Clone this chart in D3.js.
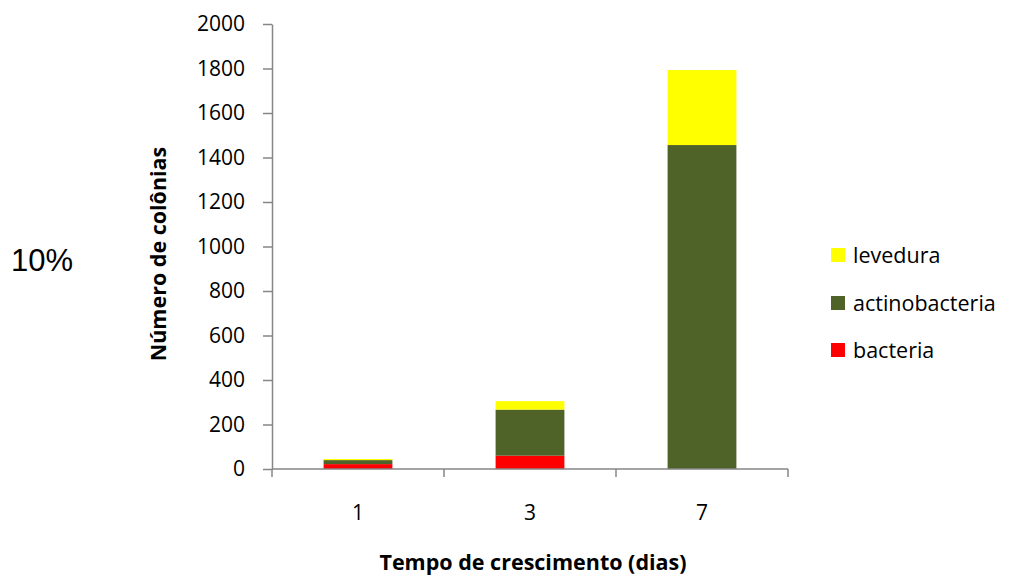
<!DOCTYPE html>
<html>
<head>
<meta charset="utf-8">
<script src="https://cdn.jsdelivr.net/npm/d3@7"></script>
<style>
  body { margin: 0; background: #fff; }
  svg { display: block; }
  text { font-family: "Open Sans", sans-serif; fill: #000; }
</style>
</head>
<body>
<svg id="chart" width="1012" height="580"></svg>
<script>
const categories = ["1", "3", "7"];
const seriesNames = ["bacteria", "actinobacteria", "levedura"];
const bacteria = [22, 60, 0];
const actinobacteria = [18, 207, 1456];
const levedura = [5, 38, 337];
const seriesColors = ["#FF0000", "#4F6228", "#FFFF00"];
const yTicks = [0, 200, 400, 600, 800, 1000, 1200, 1400, 1600, 1800, 2000];

const rows = categories.map((c, i) => ({
  cat: c, bacteria: bacteria[i], actinobacteria: actinobacteria[i], levedura: levedura[i]
}));

const svg = d3.select("#chart");
const axisColor = "#868686";

const x = d3.scaleBand().domain(categories).range([272, 788]).paddingInner(0.6).paddingOuter(0.3);
const y = d3.scaleLinear().domain([0, 2000]).range([469, 24]);
const color = d3.scaleOrdinal().domain(seriesNames).range(seriesColors);

const stack = d3.stack().keys(seriesNames)(rows);

svg.append("g").selectAll("g").data(stack).join("g")
  .attr("fill", d => color(d.key))
  .selectAll("rect").data(d => d).join("rect")
  .attr("x", d => x(d.data.cat))
  .attr("width", x.bandwidth())
  .attr("y", d => y(d[1]))
  .attr("height", d => y(d[0]) - y(d[1]));

// Y axis
const yAxis = svg.append("g").attr("transform", "translate(272,0)")
  .call(d3.axisLeft(y).tickValues(yTicks).tickFormat(d3.format("d")).tickSize(9).tickPadding(18).tickSizeOuter(0));
yAxis.select(".domain").attr("stroke", axisColor).attr("stroke-width", 1.5);
yAxis.selectAll(".tick line").attr("stroke", axisColor).attr("stroke-width", 1.5);
yAxis.selectAll(".tick text").style("font-size", "21px").style("font-family", "Open Sans").attr("fill", "#000");

// X axis
const xAxis = svg.append("g").attr("transform", "translate(0,469)")
  .call(d3.axisBottom(x).tickSize(0).tickPadding(36));
xAxis.select(".domain").remove();
xAxis.append("line").attr("x1", 272).attr("x2", 788).attr("y1", 0).attr("y2", 0)
  .attr("stroke", axisColor).attr("stroke-width", 1.5);
const bounds = [272].concat(categories.map(c => x(c) + x.bandwidth() + x.step() * x.paddingInner() / 2));
bounds[bounds.length - 1] = 788;
xAxis.selectAll("line.sep").data(bounds).join("line").attr("class", "sep")
  .attr("x1", d => d).attr("x2", d => d).attr("y1", 0).attr("y2", 8)
  .attr("stroke", axisColor).attr("stroke-width", 1.5);
xAxis.selectAll(".tick text").style("font-size", "21px").style("font-family", "Open Sans").attr("fill", "#000");

// Titles
svg.append("text").attr("x", 533).attr("y", 570).attr("text-anchor", "middle")
  .style("font-size", "21.5px").style("font-weight", "bold")
  .text("Tempo de crescimento (dias)");
svg.append("text").attr("transform", "translate(166,254) rotate(-90)").attr("text-anchor", "middle")
  .style("font-size", "21.5px").style("font-weight", "bold")
  .text("Número de colônias");
svg.append("text").attr("x", 11).attr("y", 271)
  .style("font-family", "Liberation Sans, Arial, sans-serif").style("font-size", "31px")
  .text("10%");

// Legend
const legendItems = ["levedura", "actinobacteria", "bacteria"];
const legendY = [255, 303, 350];
const lg = svg.append("g").selectAll("g").data(legendItems).join("g")
  .attr("transform", (d, i) => `translate(831,${legendY[i]})`);
lg.append("rect").attr("x", 0).attr("y", -7).attr("width", 14).attr("height", 14).attr("fill", d => color(d));
lg.append("text").attr("x", 22).attr("y", 0).attr("dy", "0.35em")
  .style("font-size", "21.5px").text(d => d);
</script>
</body>
</html>
